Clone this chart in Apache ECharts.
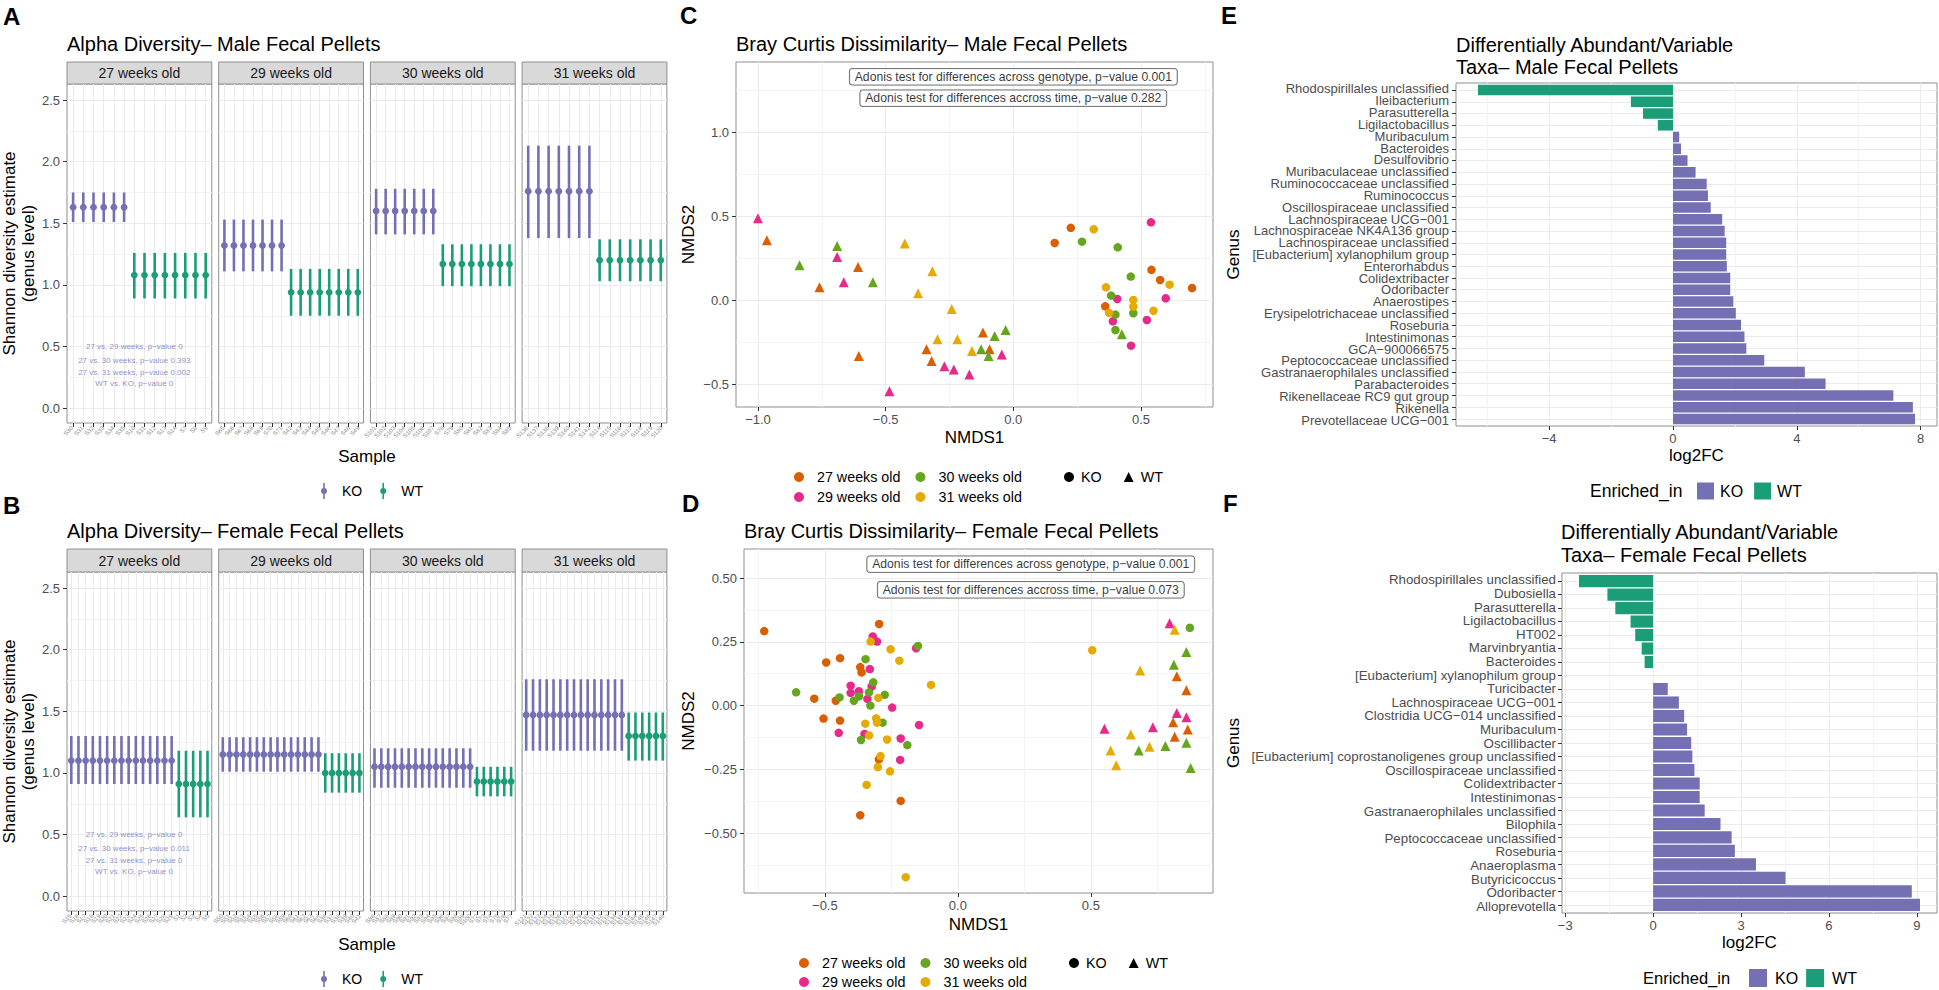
<!DOCTYPE html>
<html><head><meta charset="utf-8">
<script src="https://cdn.jsdelivr.net/npm/echarts@6/dist/echarts.min.js"></script>
<style>html,body{margin:0;padding:0;background:#fff}#main{width:1939px;height:990px}</style>
</head><body><div id="main"></div>
<script>
// ---------------- DATA ----------------
const weekLabels = ['27 weeks old', '29 weeks old', '30 weeks old', '31 weeks old'];

// Panel A – male alpha diversity (Shannon, genus level)
const maleKOSamples = [
  ['S30','S31','S32','S33','S34','S35'],
  ['S65','S66','S67','S68','S69','S70','S71'],
  ['S101','S102','S103','S104','S105','S106','S107'],
  ['S136','S137','S138','S139','S140','S141','S142']
];
const maleWTSamples = [
  ['S10','S11','S12','S13','S14','S7','S8','S9'],
  ['S42','S43','S44','S45','S46','S47','S48','S49'],
  ['S78','S79','S80','S81','S82','S83','S84','S85'],
  ['S114','S115','S116','S117','S118','S119','S120']
];
const maleKOShannon = [1.63, 1.32, 1.60, 1.76];
const maleKOLow     = [1.51, 1.11, 1.41, 1.38];
const maleKOHigh    = [1.75, 1.53, 1.78, 2.13];
const maleWTShannon = [1.08, 0.94, 1.17, 1.20];
const maleWTLow     = [0.89, 0.75, 0.99, 1.03];
const maleWTHigh    = [1.26, 1.13, 1.33, 1.37];
const maleTests = ['27 vs. 29 weeks, p\u2212value 0', '27 vs. 30 weeks, p\u2212value 0.393', '27 vs. 31 weeks, p\u2212value 0.002', 'WT vs. KO, p\u2212value 0'];

// Panel B – female alpha diversity
const femaleKOSamples = [
  ['S15','S16','S17','S18','S19','S20','S21','S22','S23','S24','S25','S26','S27','S28','S29'],
  ['S50','S51','S52','S53','S54','S55','S56','S57','S58','S59','S60','S61','S62','S63','S64'],
  ['S86','S87','S88','S89','S90','S91','S92','S93','S94','S95','S96','S97','S98','S99','S100'],
  ['S121','S122','S123','S124','S125','S126','S127','S128','S129','S130','S131','S132','S133','S134','S135']
];
const femaleWTSamples = [
  ['S1','S2','S3','S4','S5'],
  ['S36','S37','S38','S39','S40','S41'],
  ['S72','S73','S74','S75','S76','S77'],
  ['S143','S144','S145','S146','S147','S148']
];
const femaleKOShannon = [1.10, 1.15, 1.05, 1.47];
const femaleKOLow     = [0.91, 1.01, 0.88, 1.18];
const femaleKOHigh    = [1.30, 1.29, 1.20, 1.76];
const femaleWTShannon = [0.91, 1.00, 0.93, 1.30];
const femaleWTLow     = [0.64, 0.84, 0.81, 1.10];
const femaleWTHigh    = [1.18, 1.16, 1.05, 1.49];
const femaleTests = ['27 vs. 29 weeks, p\u2212value 0', '27 vs. 30 weeks, p\u2212value 0.011', '27 vs. 31 weeks, p\u2212value 0', 'WT vs. KO, p\u2212value 0'];
const testLevels = [0.5, 0.39, 0.29, 0.2];

// Panel C – male Bray Curtis NMDS (week index: 0=27,1=29,2=30,3=31)
const maleNMDS1 = [-1.00,-0.965,-0.837,-0.759,-0.69,-0.69,-0.664,-0.608,-0.55,-0.425,-0.317,-0.373,-0.241,-0.119,-0.030,-0.073,-0.297,-0.219,-0.605,-0.34,-0.32,-0.27,-0.233,-0.172,-0.162,-0.126,-0.093,-0.097,-0.045,-0.485,0.425,
  0.162,0.225,0.269,0.315,0.409,0.539,0.46,0.541,0.575,0.612,0.70,0.363,0.383,0.407,0.47,0.47,0.36,0.375,0.40,0.39,0.47,0.549,0.597,0.523,0.40,0.461];
const maleNMDS2 = [0.49,0.36,0.21,0.08,0.325,0.26,0.11,0.20,0.11,0.34,0.175,0.044,-0.05,-0.19,-0.175,-0.21,-0.23,-0.23,-0.33,-0.29,-0.36,-0.39,-0.41,-0.44,-0.30,-0.29,-0.29,-0.33,-0.32,-0.54,-0.20,
  0.343,0.433,0.351,0.425,0.317,0.466,0.143,0.183,0.123,0.095,0.075,0.079,0.03,0.01,0.004,-0.036,-0.034,-0.073,-0.083,-0.123,-0.075,-0.06,0.014,-0.115,-0.175,-0.268];
const maleWeek = [1,0,2,0,2,1,1,0,2,3,3,3,3,0,2,2,3,3,0,0,0,1,1,1,3,2,0,2,1,1,2,
  0,0,2,3,2,1,2,0,0,3,0,3,2,1,3,3,0,3,2,1,2,3,1,1,2,1];
const maleGenotype = ['WT','WT','WT','WT','WT','WT','WT','WT','WT','WT','WT','WT','WT','WT','WT','WT','WT','WT','WT','WT','WT','WT','WT','WT','WT','WT','WT','WT','WT','WT','WT',
  'KO','KO','KO','KO','KO','KO','KO','KO','KO','KO','KO','KO','KO','KO','KO','KO','KO','KO','KO','KO','KO','KO','KO','KO','KO','KO'];
const maleAdonis = ['Adonis test for differences across genotype, p\u2212value 0.001', 'Adonis test for differences accross time, p\u2212value 0.282'];

// Panel D – female Bray Curtis NMDS
const femaleNMDS1 = [-0.728,-0.296,-0.320,-0.304,-0.328,-0.150,-0.157,-0.253,-0.495,-0.443,-0.347,-0.220,-0.367,-0.362,-0.331,-0.318,-0.324,-0.403,-0.403,-0.372,-0.334,-0.101,-0.608,-0.540,-0.459,-0.445,-0.391,-0.372,-0.340,-0.299,-0.275,-0.329,-0.247,-0.505,-0.443,-0.448,-0.348,-0.307,-0.304,-0.283,-0.146,-0.351,-0.334,-0.364,-0.266,-0.215,-0.190,-0.291,-0.297,-0.217,-0.301,-0.255,-0.343,-0.215,0.505,0.872,-0.367,-0.196,
  0.796,0.815,0.859,0.812,0.685,0.823,0.859,0.823,0.859,0.809,0.864,0.551,0.733,0.650,0.815,0.859,0.780,0.720,0.680,0.574,0.595,0.875];
const femaleNMDS2 = [0.292,0.320,0.271,0.251,0.251,0.234,0.225,0.221,0.169,0.186,0.182,0.176,0.151,0.130,0.143,0.091,0.075,0.078,0.050,0.056,0.052,0.081,0.052,0.027,0.019,0.032,0.019,0.036,0.026,0.030,0.042,0.000,-0.008,-0.051,-0.059,-0.107,-0.071,-0.050,-0.067,-0.067,-0.076,-0.111,-0.117,-0.135,-0.133,-0.129,-0.155,-0.198,-0.211,-0.213,-0.241,-0.258,-0.311,-0.374,0.217,0.305,-0.43,-0.673,
  0.323,0.297,0.210,0.160,0.138,0.115,0.060,-0.029,-0.046,-0.065,-0.094,-0.091,-0.085,-0.113,-0.122,-0.146,-0.159,-0.161,-0.176,-0.176,-0.234,-0.245];
const femaleWeek = [0,0,1,1,3,2,1,3,0,0,2,3,0,0,1,2,1,1,1,1,2,3,2,0,0,2,2,2,1,3,2,2,1,0,0,1,3,3,3,2,1,1,3,2,3,1,2,3,0,1,3,3,3,0,3,2,0,3,
  1,3,2,2,3,0,0,1,1,0,0,1,1,3,0,2,2,3,2,3,3,2];
const femaleGenotype = ['KO','KO','KO','KO','KO','KO','KO','KO','KO','KO','KO','KO','KO','KO','KO','KO','KO','KO','KO','KO','KO','KO','KO','KO','KO','KO','KO','KO','KO','KO','KO','KO','KO','KO','KO','KO','KO','KO','KO','KO','KO','KO','KO','KO','KO','KO','KO','KO','KO','KO','KO','KO','KO','KO','KO','KO','KO','KO',
  'WT','WT','WT','WT','WT','WT','WT','WT','WT','WT','WT','WT','WT','WT','WT','WT','WT','WT','WT','WT','WT','WT'];
const femaleAdonis = ['Adonis test for differences across genotype, p\u2212value 0.001', 'Adonis test for differences accross time, p\u2212value 0.073'];

// Panel E – male differentially abundant taxa
const maleTaxa = ['Rhodospirillales unclassified','Ileibacterium','Parasutterella','Ligilactobacillus','Muribaculum','Bacteroides','Desulfovibrio','Muribaculaceae unclassified','Ruminococcaceae unclassified','Ruminococcus','Oscillospiraceae unclassified','Lachnospiraceae UCG\u2212001','Lachnospiraceae NK4A136 group','Lachnospiraceae unclassified','[Eubacterium] xylanophilum group','Enterorhabdus','Colidextribacter','Odoribacter','Anaerostipes','Erysipelotrichaceae unclassified','Roseburia','Intestinimonas','GCA\u2212900066575','Peptococcaceae unclassified','Gastranaerophilales unclassified','Parabacteroides','Rikenellaceae RC9 gut group','Rikenella','Prevotellaceae UCG\u2212001'];
const maleLog2FC = [-6.30,-1.36,-0.97,-0.49,0.20,0.26,0.47,0.73,1.09,1.13,1.22,1.59,1.67,1.72,1.72,1.74,1.85,1.85,1.95,2.03,2.20,2.31,2.37,2.95,4.26,4.93,7.12,7.75,7.82];

// Panel F – female differentially abundant taxa
const femaleTaxa = ['Rhodospirillales unclassified','Dubosiella','Parasutterella','Ligilactobacillus','HT002','Marvinbryantia','Bacteroides','[Eubacterium] xylanophilum group','Turicibacter','Lachnospiraceae UCG\u2212001','Clostridia UCG\u2212014 unclassified','Muribaculum','Oscillibacter','[Eubacterium] coprostanoligenes group unclassified','Oscillospiraceae unclassified','Colidextribacter','Intestinimonas','Gastranaerophilales unclassified','Bilophila','Peptococcaceae unclassified','Roseburia','Anaeroplasma','Butyricicoccus','Odoribacter','Alloprevotella'];
const femaleLog2FC = [-2.53,-1.56,-1.29,-0.77,-0.61,-0.39,-0.29,0,0.50,0.88,1.06,1.16,1.30,1.34,1.41,1.59,1.59,1.76,2.30,2.68,2.79,3.51,4.52,8.83,9.11];

// ---------------- STYLE ----------------
const FONT = "'Liberation Sans', Arial, Helvetica, sans-serif";
const KO_COLOR = '#7570B3', WT_COLOR = '#1B9E77';
const WEEK_COLORS = ['#D95F02', '#E7298A', '#66A61E', '#E6AB02'];
const MAJOR = '#EBEBEB', MINOR = '#F4F4F4', BORDER = '#8F8F8F', TICKC = '#333333', LAB = '#4D4D4D';
const PR_ICON = 'path://M2.2,0H3.8V16H2.2Z M0,8A3,3 0 1,1 6,8A3,3 0 1,1 0,8Z';

const grid = [], xAxis = [], yAxis = [], series = [], graphic = [], legend = [], title = [];
const fmt = d => v => (v < -1e-9 ? '\u2212' : '') + Math.abs(v).toFixed(d);

function addGrid(left, top, width, height) {
  grid.push({left, top, width, height, show: true, backgroundColor: '#fff', borderColor: BORDER, borderWidth: 1, containLabel: false, outerBoundsMode: 'none'});
  return grid.length - 1;
}
function addValueAxis(list, dim, gi, c) {
  const pos = dim === 'x' ? 'bottom' : 'left';
  const ax = {
    type: 'value', gridIndex: gi, position: pos, min: c.min, max: c.max, inverse: !!c.inverse, silent: true,
    axisLine: {show: false, onZero: false},
    axisTick: {show: c.ticks !== false, customValues: c.majors, length: 4, lineStyle: {color: TICKC, width: 1}},
    axisLabel: {show: c.labels !== false, customValues: c.majors, formatter: c.formatter, fontSize: c.fontSize || 13,
      color: c.color || LAB, fontFamily: FONT, margin: c.margin == null ? 6 : c.margin, rotate: c.rotate || 0,
      hideOverlap: false, showMinLabel: true, showMaxLabel: true},
    splitLine: {show: true, customValues: c.majors, lineStyle: {color: MAJOR, width: 1}},
    minorTick: {show: false}, minorSplitLine: {show: false}, splitArea: {show: false}
  };
  if (c.name) {
    ax.name = c.name; ax.nameLocation = 'middle'; ax.nameGap = c.nameGap;
    ax.nameTextStyle = {fontSize: 17, color: '#000', fontFamily: FONT, lineHeight: 19};
    if (dim === 'y') ax.nameRotate = 90;
  }
  list.push(ax);
  const idx = list.length - 1;
  if (c.minors && c.minors.length) {
    list.push({type: 'value', gridIndex: gi, position: pos, min: c.min, max: c.max, inverse: !!c.inverse, silent: true,
      axisLine: {show: false, onZero: false}, axisTick: {show: false, customValues: c.minors},
      axisLabel: {show: false, customValues: c.minors},
      splitLine: {show: true, customValues: c.minors, lineStyle: {color: MINOR, width: 1}}});
  }
  return idx;
}
// category axis laid over a value axis: carries the text labels only (all shown)
function addLabelAxis(list, dim, gi, names, c) {
  list.push({type: 'category', gridIndex: gi, position: dim === 'x' ? 'bottom' : 'left', data: names, boundaryGap: true,
    inverse: !!c.inverse, silent: true, axisLine: {show: false, onZero: false}, axisTick: {show: false}, splitLine: {show: false},
    axisLabel: {show: true, interval: 0, rotate: c.rotate || 0, fontSize: c.fontSize, color: c.color || LAB, fontFamily: FONT, margin: c.margin}});
}
function txt(x, y, text, size, opt) {
  graphic.push(Object.assign({type: 'text', x, y, silent: true,
    style: Object.assign({text, fill: '#000', fontSize: size, fontFamily: FONT, align: 'left', verticalAlign: 'middle'}, (opt || {}).style || {})},
    (opt || {}).el || {}));
}
function addTitle(text, left, top, size, bold, lh) {
  title.push({text, left, top, padding: 0, itemGap: 0,
    textStyle: {fontSize: size, fontWeight: bold ? 'bold' : 'normal', color: '#000', fontFamily: FONT, lineHeight: lh || size + 2}});
}
function pointRange(params, api) {
  const x = api.value(0);
  const c = api.coord([x, api.value(1)]);
  const lo = api.coord([x, api.value(2)]);
  const hi = api.coord([x, api.value(3)]);
  const color = api.visual('color');
  return {type: 'group', children: [
    {type: 'line', shape: {x1: c[0], y1: lo[1], x2: c[0], y2: hi[1]}, style: {stroke: color, lineWidth: 2.6}},
    {type: 'circle', shape: {cx: c[0], cy: c[1], r: 3.4}, style: {fill: color}}
  ]};
}
function hbar(params, api) {
  const v = api.value(0), i = api.value(1);
  const a = api.coord([0, i]), b = api.coord([v, i]);
  const h = Math.abs(api.size([0, 0.9])[1]);
  return {type: 'rect', shape: {x: Math.min(a[0], b[0]), y: a[1] - h / 2, width: Math.abs(b[0] - a[0]), height: h},
    style: {fill: api.visual('color')}};
}

// ---------------- ALPHA PANELS ----------------
function alphaPanel(p) {
  const FW = 144.8, FG = 6.9, X0 = 67, H = 339;
  for (let f = 0; f < 4; f++) {
    const left = X0 + f * (FW + FG);
    const gi = addGrid(left, p.top, FW, H);
    const names = p.ko[f].concat(p.wt[f]);
    const ticks = names.map((_, i) => i);
    const xi = addValueAxis(xAxis, 'x', gi, {min: -0.6, max: names.length - 0.4, majors: ticks, labels: false});
    addLabelAxis(xAxis, 'x', gi, names, {rotate: 45, fontSize: 6, color: '#8A8A8A', margin: 4});
    const yi = addValueAxis(yAxis, 'y', gi, {min: -0.12, max: 2.63, majors: [0, 0.5, 1, 1.5, 2, 2.5],
      minors: [0.25, 0.75, 1.25, 1.75, 2.25], labels: f === 0, ticks: f === 0, formatter: fmt(1), margin: 7,
      name: f === 0 ? 'Shannon diversity estimate\n(genus level)' : null, nameGap: 29.5});
    series.push({type: 'custom', name: 'KO', xAxisIndex: xi, yAxisIndex: yi, renderItem: pointRange, silent: true, z: 3,
      encode: {x: 0, y: [1, 2, 3]}, itemStyle: {color: KO_COLOR},
      data: p.ko[f].map((s, i) => [i, p.koMean[f], p.koLow[f], p.koHigh[f]])});
    series.push({type: 'custom', name: 'WT', xAxisIndex: xi, yAxisIndex: yi, renderItem: pointRange, silent: true, z: 3,
      encode: {x: 0, y: [1, 2, 3]}, itemStyle: {color: WT_COLOR},
      data: p.wt[f].map((s, i) => [p.ko[f].length + i, p.wtMean[f], p.wtLow[f], p.wtHigh[f]])});
    graphic.push({type: 'rect', silent: true, shape: {x: left, y: p.stripTop, width: FW, height: p.top - p.stripTop},
      style: {fill: '#D9D9D9', stroke: BORDER, lineWidth: 1}});
    txt(left + FW / 2, (p.stripTop + p.top) / 2, weekLabels[f], 14, {style: {align: 'center', fill: '#1A1A1A'}});
    if (f === 0) {
      series.push({type: 'scatter', name: 'tests', xAxisIndex: xi, yAxisIndex: yi, symbolSize: 1, silent: true, z: 4,
        itemStyle: {color: 'rgba(0,0,0,0)'},
        label: {show: true, position: 'inside', formatter: '{b}', fontSize: 8, color: KO_COLOR, fontFamily: FONT},
        data: p.tests.map((t, i) => ({name: t, value: [p.testX, testLevels[i]]}))});
    }
  }
  txt(367, p.top + 372, 'Sample', 17, {style: {align: 'center'}});
  legend.push({data: ['KO', 'WT'], left: 321, top: p.legendY - 8, padding: 0, itemWidth: 6, itemHeight: 16, itemGap: 18,
    icon: PR_ICON, selectedMode: false, textStyle: {fontSize: 14, color: '#000', fontFamily: FONT, padding: [0, 0, 0, 10]}});
}
alphaPanel({top: 84, stripTop: 62, ko: maleKOSamples, wt: maleWTSamples, koMean: maleKOShannon, koLow: maleKOLow, koHigh: maleKOHigh,
  wtMean: maleWTShannon, wtLow: maleWTLow, wtHigh: maleWTHigh, tests: maleTests, testX: 6, legendY: 491});
alphaPanel({top: 572, stripTop: 549, ko: femaleKOSamples, wt: femaleWTSamples, koMean: femaleKOShannon, koLow: femaleKOLow, koHigh: femaleKOHigh,
  wtMean: femaleWTShannon, wtLow: femaleWTLow, wtHigh: femaleWTHigh, tests: femaleTests, testX: 8.75, legendY: 979});

// ---------------- NMDS PANELS ----------------
function nmdsPanel(p) {
  const gi = addGrid(p.left, p.top, p.w, p.h);
  const xi = addValueAxis(xAxis, 'x', gi, {min: p.xMin, max: p.xMax, majors: p.xMaj, minors: p.xMin2, formatter: fmt(1),
    margin: 6, name: 'NMDS1', nameGap: p.xGap});
  const yi = addValueAxis(yAxis, 'y', gi, {min: p.yMin, max: p.yMax, majors: p.yMaj, minors: p.yMin2, formatter: fmt(p.yDec),
    margin: 7, name: 'NMDS2', nameGap: p.yGap});
  for (let w = 0; w < 4; w++) {
    const data = [];
    p.x.forEach((v, i) => {
      if (p.week[i] !== w) return;
      const ko = p.geno[i] === 'KO';
      data.push({value: [v, p.y[i]], symbol: ko ? 'circle' : 'triangle', symbolSize: ko ? 8.5 : 10});
    });
    series.push({type: 'scatter', name: weekLabels[w], xAxisIndex: xi, yAxisIndex: yi, silent: true, z: 3,
      itemStyle: {color: WEEK_COLORS[w], opacity: 1}, data});
  }
  series.push({type: 'scatter', name: 'adonis', xAxisIndex: xi, yAxisIndex: yi, symbolSize: 1, silent: true, z: 5,
    itemStyle: {color: 'rgba(0,0,0,0)'},
    label: {show: true, position: 'inside', formatter: '{b}', fontSize: 12.2, color: '#000', fontFamily: FONT,
      backgroundColor: '#fff', borderColor: '#333', borderWidth: 0.8, borderRadius: 3, padding: [2, 5, 2, 5]},
    data: p.adonis.map((t, i) => ({name: t, value: [p.adonisX, p.adonisY[i]]}))});
  const ls = {fontSize: 14.3, color: '#000', fontFamily: FONT, padding: [0, 0, 0, 8]};
  legend.push({data: [weekLabels[0], weekLabels[2]], left: p.legLeft, top: p.legY - 5, padding: 0, itemWidth: 10, itemHeight: 10,
    itemGap: 15, icon: 'circle', selectedMode: false, textStyle: ls});
  legend.push({data: [weekLabels[1], weekLabels[3]], left: p.legLeft, top: p.legY + p.rowGap - 5, padding: 0, itemWidth: 10, itemHeight: 10,
    itemGap: 15, icon: 'circle', selectedMode: false, textStyle: ls});
  legend.push({data: [{name: 'KO', icon: 'circle', itemStyle: {color: '#000'}}, {name: 'WT', icon: 'triangle', itemStyle: {color: '#000'}}],
    left: p.legLeft + 270, top: p.legY - 5, padding: 0, itemWidth: 10, itemHeight: 10, itemGap: 22, selectedMode: false,
    textStyle: {fontSize: 14.3, color: '#000', fontFamily: FONT, padding: [0, 0, 0, 2]}});
}
nmdsPanel({left: 736, top: 62, w: 477, h: 345, x: maleNMDS1, y: maleNMDS2, week: maleWeek, geno: maleGenotype,
  xMin: -1.086, xMax: 0.782, xMaj: [-1, -0.5, 0, 0.5], xMin2: [-0.75, -0.25, 0.25, 0.75],
  yMin: -0.633, yMax: 1.42, yMaj: [-0.5, 0, 0.5, 1], yMin2: [-0.25, 0.25, 0.75, 1.25], yDec: 1,
  xGap: 21, yGap: 38.5, adonis: maleAdonis, adonisX: 0, adonisY: [1.332, 1.204], legLeft: 794, legY: 475, rowGap: 20});
nmdsPanel({left: 744, top: 549, w: 469, h: 344, x: femaleNMDS1, y: femaleNMDS2, week: femaleWeek, geno: femaleGenotype,
  xMin: -0.804, xMax: 0.959, xMaj: [-0.5, 0, 0.5], xMin2: [-0.75, -0.25, 0.25, 0.75],
  yMin: -0.735, yMax: 0.614, yMaj: [-0.5, -0.25, 0, 0.25, 0.5], yMin2: [-0.625, -0.375, -0.125, 0.125, 0.375], yDec: 2,
  xGap: 21.5, yGap: 46.5, adonis: femaleAdonis, adonisX: 0.274, adonisY: [0.554, 0.454], legLeft: 799, legY: 961, rowGap: 19});

// ---------------- DIFFERENTIAL ABUNDANCE PANELS ----------------
function daPanel(p) {
  const gi = addGrid(p.left, p.top, 1937 - p.left, p.h);
  const xi = addValueAxis(xAxis, 'x', gi, {min: p.xMin, max: p.xMax, majors: p.xMaj, minors: p.xMin2, formatter: fmt(0),
    margin: 6, name: 'log2FC', nameGap: p.xGap});
  const ticks = p.taxa.map((_, i) => i);
  const yi = addValueAxis(yAxis, 'y', gi, {min: -0.6, max: p.taxa.length - 0.4, inverse: true, majors: ticks,
    labels: false, name: 'Genus', nameGap: p.yGap});
  addLabelAxis(yAxis, 'y', gi, p.taxa, {inverse: true, fontSize: p.labSize, margin: p.labMargin});
  const ko = [], wt = [];
  p.vals.forEach((v, i) => { if (v > 0) ko.push([v, i]); else if (v < 0) wt.push([v, i]); });
  series.push({type: 'custom', name: 'KO', xAxisIndex: xi, yAxisIndex: yi, renderItem: hbar, silent: true, z: 3,
    encode: {x: 0, y: 1}, itemStyle: {color: KO_COLOR}, data: ko});
  series.push({type: 'custom', name: 'WT', xAxisIndex: xi, yAxisIndex: yi, renderItem: hbar, silent: true, z: 3,
    encode: {x: 0, y: 1}, itemStyle: {color: WT_COLOR}, data: wt});
  txt(p.legTitleX, p.legY, 'Enriched_in', p.legTitleSize);
  legend.push({data: ['KO', 'WT'], left: p.legLeft, top: p.legY - p.box / 2, padding: 0, itemWidth: p.box, itemHeight: p.box,
    itemGap: p.legGap, icon: 'rect', selectedMode: false, textStyle: {fontSize: 16, color: '#000', fontFamily: FONT, padding: [0, 0, 0, p.legPad]}});
}
daPanel({left: 1456, top: 83, h: 343, taxa: maleTaxa, vals: maleLog2FC, xMin: -7.01, xMax: 8.53, xMaj: [-4, 0, 4, 8], xMin2: [-6, -2, 2, 6],
  xGap: 19.5, yGap: 213.5, labSize: 13, labMargin: 7, legTitleX: 1590, legLeft: 1697, legY: 491, box: 17, legGap: 11, legPad: 1, legTitleSize: 17.5});
daPanel({left: 1562, top: 573, h: 340, taxa: femaleTaxa, vals: femaleLog2FC, xMin: -3.11, xMax: 9.69, xMaj: [-3, 0, 3, 6, 9], xMin2: [-1.5, 1.5, 4.5, 7.5],
  xGap: 14.5, yGap: 319.5, labSize: 13.3, labMargin: 6, legTitleX: 1643, legLeft: 1749, legY: 978, box: 18, legGap: 8, legPad: 3, legTitleSize: 16.5});

// ---------------- TITLES ----------------
addTitle('A', 3, 3, 24, true, 26);
addTitle('B', 3, 492, 24, true, 26);
addTitle('C', 680, 2, 24, true, 26);
addTitle('D', 682, 490, 24, true, 26);
addTitle('E', 1221, 2, 24, true, 26);
addTitle('F', 1223, 490, 24, true, 26);
addTitle('Alpha Diversity\u2013 Male Fecal Pellets', 67, 33, 20, false, 22);
addTitle('Alpha Diversity\u2013 Female Fecal Pellets', 67, 520, 20, false, 22);
addTitle('Bray Curtis Dissimilarity\u2013 Male Fecal Pellets', 736, 33, 20, false, 22);
addTitle('Bray Curtis Dissimilarity\u2013 Female Fecal Pellets', 744, 520, 20, false, 22);
addTitle('Differentially Abundant/Variable\nTaxa\u2013 Male Fecal Pellets', 1456, 34, 20, false, 22);
addTitle('Differentially Abundant/Variable\nTaxa\u2013 Female Fecal Pellets', 1561, 520, 20, false, 23);

const chart = echarts.init(document.getElementById('main'), null, {renderer: 'svg', width: 1939, height: 990});
chart.setOption({
  animation: false,
  backgroundColor: '#ffffff',
  textStyle: {fontFamily: FONT},
  title, grid, xAxis, yAxis, series, legend, graphic
});
</script></body></html>
